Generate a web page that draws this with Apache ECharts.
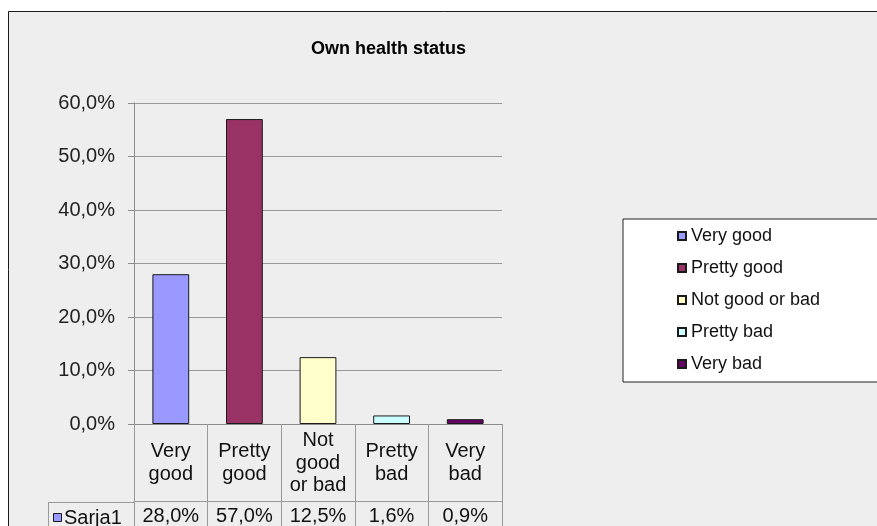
<!DOCTYPE html>
<html>
<head>
<meta charset="utf-8">
<script src="https://cdn.jsdelivr.net/npm/echarts@6/dist/echarts.min.js"></script>
<style>
  html, body { margin: 0; padding: 0; background: #fff; }
  #chart { width: 877px; height: 526px; }
</style>
</head>
<body>
<div id="chart"></div>
<script>
// Answers to "Own health status" (share of respondents, %)
const categories = ['Very good', 'Pretty good', 'Not good or bad', 'Pretty bad', 'Very bad'];
const tableLabels = ['Very\ngood', 'Pretty\ngood', 'Not\ngood\nor bad', 'Pretty\nbad', 'Very\nbad'];
const shares = [28.0, 57.0, 12.5, 1.6, 0.9];
const seriesLabel = 'Sarja1';
const barColors = ['#9999ff', '#993366', '#ffffcc', '#ccffff', '#660066'];
const yMin = 0, yMax = 60, yStep = 10;

const FONT = '"Liberation Sans", Arial, sans-serif';
const fmtPct = v => v.toFixed(1).replace('.', ',') + '%';

// plot frame
const G = { left: 134, right: 375, top: 103, bottom: 101 };
const W = 877, H = 526;
const axisY = H - G.bottom;          // category axis baseline
const rowSplit = axisY + 77;         // line between label row and value row
const tableLeft = 48;

const chart = echarts.init(document.getElementById('chart'), null, { renderer: 'canvas' });

// one series per category, stacked so every bar sits centred in its own slot
const series = categories.map((name, i) => ({
  name: name,
  type: 'bar',
  stack: 'all',
  barWidth: '50%',
  data: shares.map((v, j) => (j === i ? v : '-')),
  itemStyle: { color: barColors[i], borderColor: '#1a1a1a', borderWidth: 1 },
  emphasis: { disabled: true }
}));

chart.setOption({
  backgroundColor: '#ffffff',
  animation: false,
  textStyle: { fontFamily: FONT },
  title: {
    text: 'Own health status',
    left: 306,
    top: 35,
    textStyle: { fontFamily: FONT, fontSize: 18, fontWeight: 'bold', color: '#000' }
  },
  legend: {
    orient: 'vertical',
    left: 623,
    top: 219,
    icon: 'rect',
    itemWidth: 8,
    itemHeight: 8,
    itemGap: 14,
    padding: [8, 70, 9, 54],
    backgroundColor: '#ffffff',
    borderColor: '#222',
    borderWidth: 1,
    selectedMode: false,
    textStyle: { fontFamily: FONT, fontSize: 18, lineHeight: 18, color: '#111' },
    data: categories
  },
  grid: { left: G.left, right: G.right, top: G.top, bottom: G.bottom, containLabel: false },
  xAxis: [
    {
      type: 'category',
      data: categories,
      boundaryGap: true,
      axisLine: { show: true, lineStyle: { color: '#8c8c8c', width: 1 } },
      axisTick: { show: true, interval: 0, inside: false, length: 120, lineStyle: { color: '#9a9a9a', width: 1 } },
      axisLabel: {
        interval: 0,
        margin: 39,
        verticalAlign: 'middle',
        fontFamily: FONT,
        fontSize: 20,
        lineHeight: 22.5,
        color: '#111',
        formatter: (v, i) => tableLabels[i]
      },
      splitLine: { show: false }
    },
    {
      type: 'category',
      data: categories,
      position: 'bottom',
      offset: 77,
      boundaryGap: true,
      axisLine: { show: true, lineStyle: { color: '#9a9a9a', width: 1 } },
      axisTick: { show: false },
      axisLabel: {
        interval: 0,
        margin: 15,
        verticalAlign: 'middle',
        fontFamily: FONT,
        fontSize: 20,
        color: '#111',
        formatter: (v, i) => fmtPct(shares[i])
      }
    }
  ],
  yAxis: {
    type: 'value',
    min: yMin,
    max: yMax,
    interval: yStep,
    axisLine: { show: true, lineStyle: { color: '#8c8c8c', width: 1 } },
    axisTick: { show: true, length: 6, lineStyle: { color: '#8c8c8c' } },
    axisLabel: {
      margin: 19,
      fontFamily: FONT,
      fontSize: 20,
      color: '#222',
      formatter: v => fmtPct(v)
    },
    splitLine: { show: true, lineStyle: { color: '#9a9a9a', width: 1 } }
  },
  series: series,
  graphic: [
    // chart area panel
    {
      type: 'rect', z: -10, silent: true,
      shape: { x: 8.5, y: 11.5, width: W + 20, height: H + 20 },
      style: { fill: '#eeeeee', stroke: '#1a1a1a', lineWidth: 1 }
    },
    // data table: row divider and left edge of the series-name cell
    {
      type: 'line', silent: true, z: 5,
      shape: { x1: tableLeft, y1: rowSplit + 0.5, x2: G.left, y2: rowSplit + 0.5 },
      style: { stroke: '#9a9a9a', lineWidth: 1 }
    },
    {
      type: 'line', silent: true, z: 5,
      shape: { x1: tableLeft + 0.5, y1: rowSplit, x2: tableLeft + 0.5, y2: H + 10 },
      style: { stroke: '#9a9a9a', lineWidth: 1 }
    },
    // series key inside the table
    {
      type: 'rect', silent: true, z: 5,
      shape: { x: tableLeft + 5.5, y: rowSplit + 11.5, width: 8, height: 8 },
      style: { fill: barColors[0], stroke: '#1a1a1a', lineWidth: 1 }
    },
    {
      type: 'text', silent: true, z: 5,
      x: tableLeft + 16, y: rowSplit + 16,
      style: { text: seriesLabel, font: '20px ' + FONT, fill: '#111', verticalAlign: 'middle' }
    }
  ]
});
</script>
</body>
</html>
